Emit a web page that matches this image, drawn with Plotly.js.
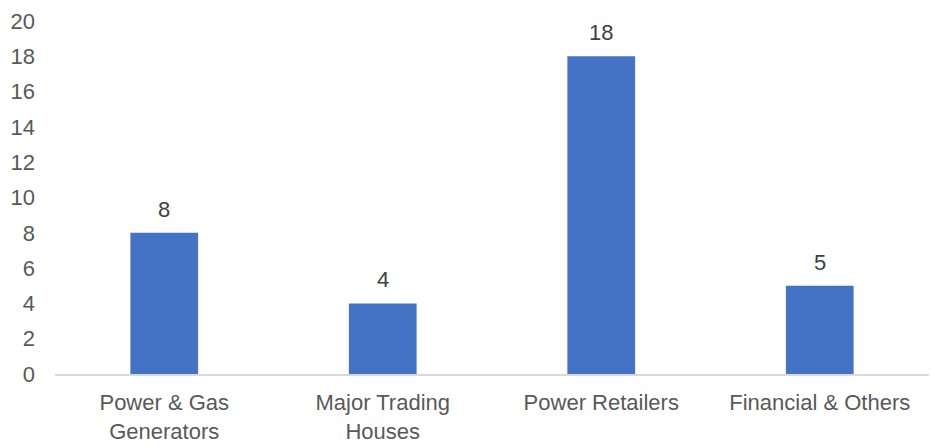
<!DOCTYPE html>
<html>
<head>
<meta charset="utf-8">
<script src="https://cdn.plot.ly/plotly-3.0.1.min.js"></script>
<style>html,body{margin:0;padding:0;background:#fff;}#chart{width:933px;height:447px;}</style>
</head>
<body>
<div id="chart"></div>
<script>
var categories = ["Power & Gas<br>Generators", "Major Trading<br>Houses", "Power Retailers", "Financial & Others"];
var values = [8, 4, 18, 5];
var valueLabels = ["8", "4", "18", "5"];
var yTicks = [0, 2, 4, 6, 8, 10, 12, 14, 16, 18, 20];

var font = "Liberation Sans, Arial, sans-serif";
var trace = {
  type: "bar",
  x: categories,
  y: values,
  marker: {color: "#4472C4"},
  hoverinfo: "none"
};
var annotations = categories.map(function (c, i) {
  return {
    x: c, y: values[i], text: valueLabels[i], showarrow: false,
    xref: "x", yref: "y", yanchor: "bottom", yshift: 9,
    font: {family: font, size: 22, color: "#404040"}
  };
});
var layout = {
  width: 933, height: 447,
  margin: {l: 55, r: 4, t: 21, b: 73},
  paper_bgcolor: "#fff", plot_bgcolor: "#fff",
  showlegend: false,
  bargap: 0.69,
  font: {family: font, size: 22, color: "#595959"},
  xaxis: {
    type: "category",
    showgrid: false, zeroline: false,
    showline: true, linecolor: "#d9d9d9", linewidth: 2,
    ticks: "", ticklabelstandoff: 8,
    tickfont: {family: font, size: 22, color: "#595959"}
  },
  yaxis: {
    range: [0, 20], tickvals: yTicks,
    showgrid: false, zeroline: false, showline: false,
    ticks: "", ticklabelstandoff: 19,
    tickfont: {family: font, size: 22, color: "#595959"}
  },
  annotations: annotations
};
Plotly.newPlot("chart", [trace], layout, {displayModeBar: false, staticPlot: true});
</script>
</body>
</html>
